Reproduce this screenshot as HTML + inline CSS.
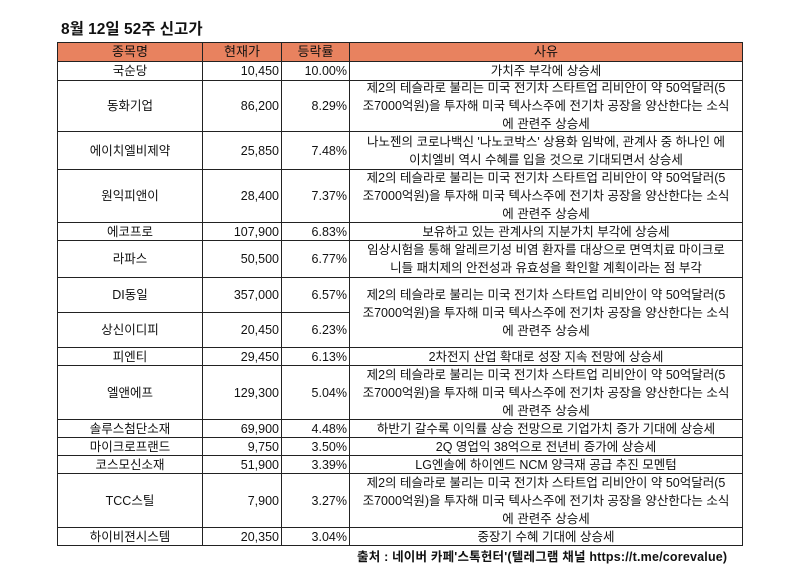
<!DOCTYPE html>
<html><head><meta charset="utf-8"><style>
body{margin:0;width:800px;height:582px;background:#fff;position:relative;overflow:hidden;font-family:"Liberation Sans","Noto Sans CJK KR",sans-serif;color:#111}
.c{position:absolute;border:1px solid #222;box-sizing:border-box;display:flex;align-items:center;justify-content:center;text-align:center;font-size:12.5px;line-height:18px;white-space:nowrap;overflow:hidden}
.r{justify-content:flex-end;padding-right:2px}
.h{background:#E8825F;font-size:13px}
.t{position:absolute;left:61px;top:17px;font-size:15.5px;font-weight:bold}
.s{position:absolute;left:357px;top:546px;font-size:12.5px;font-weight:bold;letter-spacing:0.2px}
</style></head><body>
<div class="t">8월 12일 52주 신고가</div>
<div id="tbl"></div>
<div class="s">출처 : 네이버 카페'스톡헌터'(텔레그램 채널 https://t.me/corevalue)</div>
<script>
const names=["국순당","동화기업","에이치엘비제약","원익피앤이","에코프로","라파스","DI동일","상신이디피","피엔티","엘앤에프","솔루스첨단소재","마이크로프랜드","코스모신소재","TCC스틸","하이비젼시스템"];
const prices=["10,450","86,200","25,850","28,400","107,900","50,500","357,000","20,450","29,450","129,300","69,900","9,750","51,900","7,900","20,350"];
const rates=["10.00%","8.29%","7.48%","7.37%","6.83%","6.77%","6.57%","6.23%","6.13%","5.04%","4.48%","3.50%","3.39%","3.27%","3.04%"];
const EV="제2의 테슬라로 불리는 미국 전기차 스타트업 리비안이 약 50억달러(5<br>조7000억원)을 투자해 미국 텍사스주에 전기차 공장을 양산한다는 소식<br>에 관련주 상승세";
const reasons=["가치주 부각에 상승세",EV,"나노젠의 코로나백신 '나노코박스' 상용화 임박에, 관계사 중 하나인 에<br>이치엘비 역시 수혜를 입을 것으로 기대되면서 상승세",EV,"보유하고 있는 관계사의 지분가치 부각에 상승세","임상시험을 통해 알레르기성 비염 환자를 대상으로 면역치료 마이크로<br>니들 패치제의 안전성과 유효성을 확인할 계획이라는 점 부각",EV,null,"2차전지 산업 확대로 성장 지속 전망에 상승세",EV,"하반기 갈수록 이익률 상승 전망으로 기업가치 증가 기대에 상승세","2Q 영업익 38억으로 전년비 증가에 상승세","LG엔솔에 하이엔드 NCM 양극재 공급 추진 모멘텀",EV,"중장기 수혜 기대에 상승세"];
const bounds=[61,80,131,169,222,240,277,312,347,365,419,437,455,473,527,545];
const X=[57,202,281,349,742];
const tb=document.getElementById('tbl');
function cell(x1,x2,y1,y2,html,cls){const d=document.createElement('div');d.className='c '+(cls||'');
d.style.left=x1+'px';d.style.top=y1+'px';d.style.width=(x2-x1+1)+'px';d.style.height=(y2-y1+1)+'px';d.innerHTML=html;tb.appendChild(d);return d;}
const hd=["종목명","현재가","등락률","사유"];
hd.forEach((h,i)=>{const d=cell(X[i],X[i+1],42,61,h,'h');

});
names.forEach((n,i)=>{const y1=bounds[i],y2=bounds[i+1];
let d=cell(X[0],X[1],y1,y2,n);


d=cell(X[1],X[2],y1,y2,prices[i],'r');


d=cell(X[2],X[3],y1,y2,rates[i],'r');


if(reasons[i]!==null){let y3=y2;if(i+1<reasons.length&&reasons[i+1]===null)y3=bounds[i+2];
d=cell(X[3],X[4],y1,y3,reasons[i]);

}
});
</script>
</body></html>
